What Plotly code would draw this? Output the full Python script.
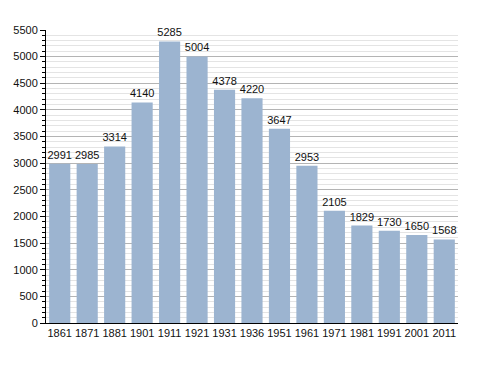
import plotly.graph_objects as go

years = ["1861", "1871", "1881", "1901", "1911", "1921", "1931", "1936",
         "1951", "1961", "1971", "1981", "1991", "2001", "2011"]
population = [2991, 2985, 3314, 4140, 5285, 5004, 4378, 4220,
              3647, 2953, 2105, 1829, 1730, 1650, 1568]

fig = go.Figure(go.Bar(
    x=years, y=population,
    marker=dict(color="#9cb4d0", line=dict(width=0)),
    text=[str(v) for v in population],
    textposition="outside",
    constraintext="none",
    textfont=dict(family="Liberation Sans, Arial", size=11, color="#111"),
    cliponaxis=False,
))

fig.update_layout(
    width=488, height=373,
    margin=dict(l=46, r=30, t=30, b=50),
    paper_bgcolor="white", plot_bgcolor="white",
    bargap=0.23,
    showlegend=False,
    font=dict(family="Liberation Sans, Arial", size=11, color="#111"),
)
fig.update_xaxes(
    type="category",
    showline=True, linecolor="black", linewidth=1,
    ticks="", showgrid=False,
    tickfont=dict(size=11),
)
fig.update_yaxes(
    range=[0, 5500], dtick=500, tick0=0,
    showline=True, linecolor="black", linewidth=1,
    ticks="outside", ticklen=5, tickcolor="black",
    showgrid=True, gridcolor="#b4b4b4", gridwidth=1,
    zeroline=False,
    minor=dict(dtick=100, showgrid=True, gridcolor="#e4e4e4",
               ticks="outside", ticklen=3, tickcolor="black"),
    tickfont=dict(size=11),
)

fig.write_html("out.html")
